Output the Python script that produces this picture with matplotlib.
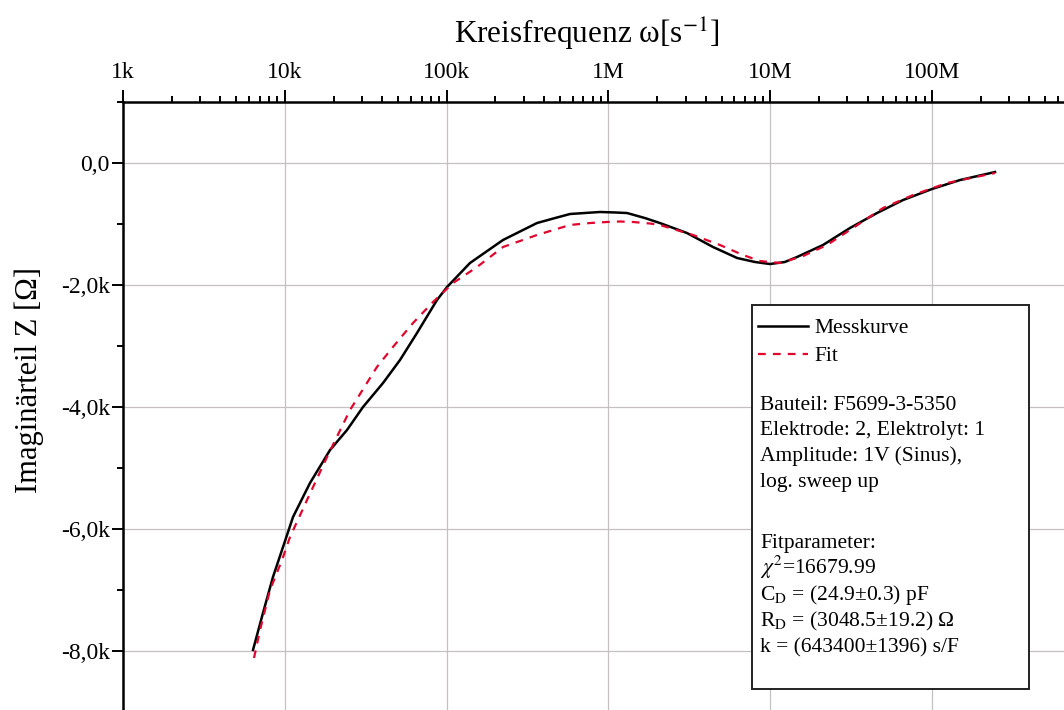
import matplotlib
matplotlib.use("Agg")
import matplotlib.pyplot as plt
from matplotlib.patches import Rectangle
from matplotlib.ticker import FixedLocator, FixedFormatter, LogLocator, NullFormatter

plt.rcParams['font.family'] = ['Liberation Serif', 'DejaVu Serif']
plt.rcParams['mathtext.fontset'] = 'stix'

# Messkurve: Kreisfrequenz [1/s] und Imaginaerteil [Ohm]
omega_mess = [6.36e3, 7.33e3, 8.45e3, 1.047e4, 1.124e4, 1.431e4, 1.903e4, 2.423e4,
              3.043e4, 4.045e4, 5.15e4, 6.56e4, 8.72e4, 1.006e5, 1.395e5, 2.232e5,
              3.62e5, 4.68e5, 5.79e5, 8.87e5, 1.10e6, 1.303e6, 1.68e6, 2.08e6,
              3.06e6, 4.43e6, 6.24e6, 8.05e6, 9.97e6, 1.23e7, 1.464e7, 2.12e7,
              3.11e7, 4.57e7, 6.62e7, 1.0e8, 1.49e8, 2.45e8]
z_mess = [-7983, -7377, -6787, -6049, -5803, -5246, -4705, -4377,
          -4000, -3607, -3230, -2787, -2246, -2033, -1639, -1262,
          -984, -902, -836, -803, -811, -820, -902, -984,
          -1148, -1377, -1557, -1623, -1656, -1623, -1541, -1344,
          -1066, -820, -607, -426, -279, -148]

# Fit
omega_fit = [6.45e3, 7.03e3, 8.10e3, 9.61e3, 1.077e4, 1.372e4, 1.823e4, 2.53e4,
             3.71e4, 4.66e4, 6.20e4, 8.24e4, 1.096e5, 1.541e5, 2.232e5, 3.62e5,
             5.79e5, 7.69e5, 9.80e5, 1.18e6, 1.419e6, 1.81e6, 2.08e6, 3.33e6,
             4.89e6, 6.79e6, 8.65e6, 1.150e7, 1.595e7, 2.244e7, 3.11e7, 4.98e7,
             7.63e7, 1.238e8, 2.45e8]
z_fit = [-8115, -7656, -7000, -6508, -6131, -5525, -4820, -4049,
         -3344, -3016, -2623, -2279, -1967, -1705, -1377, -1180,
         -1016, -984, -967, -959, -967, -992, -1016, -1180,
         -1344, -1508, -1607, -1639, -1525, -1344, -1098, -738,
         -525, -328, -164]

x_ticks = [1e3, 1e4, 1e5, 1e6, 1e7, 1e8]
x_labels = ['1k', '10k', '100k', '1M', '10M', '100M']
y_ticks = [0, -2000, -4000, -6000, -8000]
y_labels = ['0,0', '-2,0k', '-4,0k', '-6,0k', '-8,0k']
y_minor = [1000, -1000, -3000, -5000, -7000, -9000]

info_lines = ['Bauteil: F5699-3-5350',
              'Elektrode: 2, Elektrolyt: 1',
              'Amplitude: 1V (Sinus),',
              'log. sweep up']
fit_lines = ['Fitparameter:',
             r'$\chi^2$=16679.99',
             r'C$_\mathrm{D}$ = (24.9±0.3) pF',
             r'R$_\mathrm{D}$ = (3048.5±19.2) Ω',
             'k = (643400±1396) s/F']

W, H = 1064, 710
fig = plt.figure(figsize=(W / 100, H / 100), dpi=100)
ax = fig.add_axes([123 / W, 0, 941 / W, 608 / H])

l1, = ax.plot(omega_mess, z_mess, color='black', lw=1.8, zorder=3, label='Messkurve')
l2, = ax.plot(omega_fit, z_fit, color='#e0062e', lw=1.6, dashes=(3.5, 3.2),
              zorder=4, label='Fit')

ax.set_xscale('log')
ax.set_xlim(1e3, 6.54e8)
ax.set_ylim(-8967, 1000)

ax.xaxis.tick_top()
ax.xaxis.set_label_position('top')
ax.xaxis.set_major_locator(FixedLocator(x_ticks))
ax.xaxis.set_major_formatter(FixedFormatter(x_labels))
ax.xaxis.set_minor_locator(LogLocator(base=10, subs=range(2, 10), numticks=20))
ax.xaxis.set_minor_formatter(NullFormatter())
ax.yaxis.set_major_locator(FixedLocator(y_ticks))
ax.yaxis.set_major_formatter(FixedFormatter(y_labels))
ax.yaxis.set_minor_locator(FixedLocator(y_minor))

for s in ['right', 'bottom']:
    ax.spines[s].set_visible(False)
for s in ['left', 'top']:
    ax.spines[s].set_linewidth(1.8)

ax.tick_params(axis='x', which='major', direction='out', length=8.6, width=1.4,
               labelsize=17, pad=5)
ax.tick_params(axis='x', which='minor', direction='out', length=4.3, width=1.4)
ax.tick_params(axis='y', which='major', direction='out', length=8, width=1.4,
               labelsize=17, pad=1.5)
ax.tick_params(axis='y', which='minor', direction='out', length=4.5, width=1.4)

ax.grid(True, which='major', color='#c4c0c0', lw=0.9)
ax.set_axisbelow(True)

ax.set_xlabel('Kreisfrequenz ω[s$^{\\mathrm{-1}}$]', fontsize=22.5)
ax.xaxis.set_label_coords(0.493, 1.0954)
ax.set_ylabel('Imaginärteil Z [Ω]', fontsize=22)
ax.yaxis.set_label_coords(-0.0835, 0.5428)

# Legendenkasten
box = Rectangle((752 / W, 1 - 689 / H), 277 / W, 384 / H, transform=fig.transFigure,
                facecolor='white', edgecolor='#222222', lw=1.4, zorder=5)
fig.patches.append(box)

leg = fig.legend(handles=[l1, l2], loc='upper left', bbox_to_anchor=(758 / W, 1 - 318 / H),
                 frameon=False, fontsize=15.5, handlelength=2.3, handletextpad=0.3,
                 borderpad=0, borderaxespad=0, labelspacing=0.37)
leg.set_zorder(6)

for i, t in enumerate(info_lines):
    fig.text(760 / W, 1 - (410 + 25.5 * i) / H, t, fontsize=15.5, va='baseline', zorder=6)
for i, t in enumerate(fit_lines):
    fig.text(760 / W, 1 - (548 + 26 * i) / H, t, fontsize=15.5, va='baseline', zorder=6)

fig.savefig('out.png', dpi=100)
